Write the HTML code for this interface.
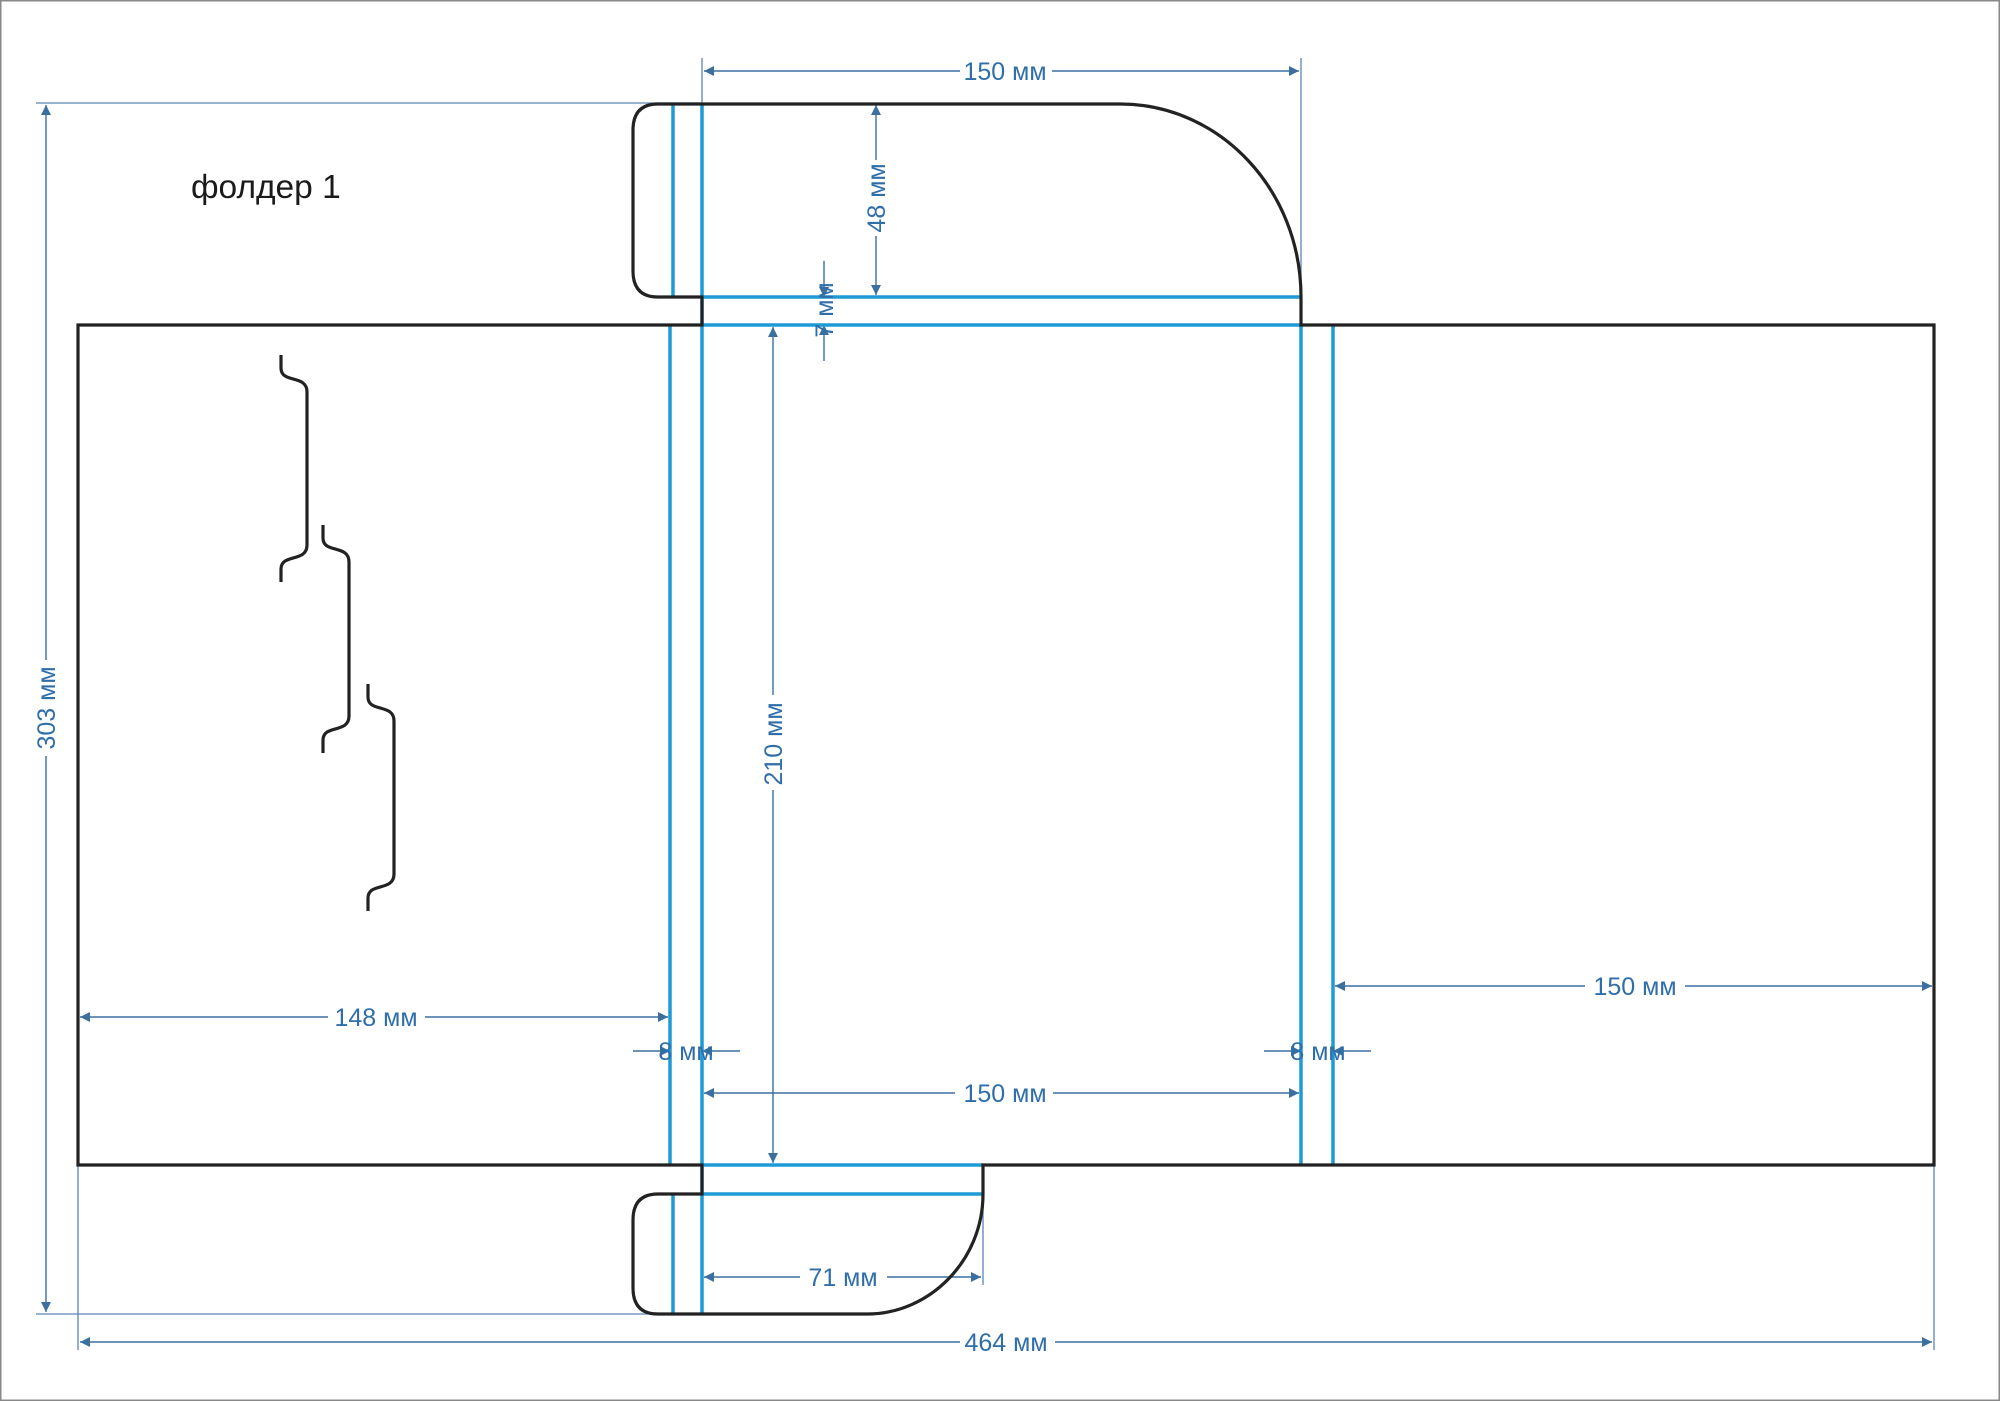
<!DOCTYPE html>
<html><head><meta charset="utf-8"><style>
html,body{margin:0;padding:0;background:#fff}
svg{display:block}
text{font-family:"Liberation Sans",sans-serif;fill:#2f6ea8;font-size:25px}
</style></head><body>
<svg width="2000" height="1401" viewBox="0 0 2000 1401" xmlns="http://www.w3.org/2000/svg">
<defs>
<marker id="a" viewBox="0 0 10 10" refX="10" refY="5" markerWidth="14" markerHeight="10" markerUnits="userSpaceOnUse" orient="auto-start-reverse"><path d="M0,0 L10,5 L0,10 z" fill="#3a6fa0"/></marker>
</defs>
<rect x="0.5" y="0.5" width="1999" height="1400" fill="#fff" stroke="#888" stroke-width="2"/>

<g stroke="#5a86b3" stroke-width="1.3" fill="none">
<line x1="36" y1="103" x2="701" y2="103"/>
<line x1="36" y1="1314" x2="701" y2="1314"/>
<line x1="78" y1="1165" x2="78" y2="1350"/>
<line x1="1934" y1="1165" x2="1934" y2="1350"/>
<line x1="702" y1="58" x2="702" y2="103"/>
<line x1="1301" y1="58" x2="1301" y2="297"/>
<line x1="983" y1="1194" x2="983" y2="1285"/>
</g>

<g stroke="#3a6fa0" stroke-width="1.4" fill="none">
<line x1="704" y1="71" x2="960" y2="71" marker-start="url(#a)"/>
<line x1="1052" y1="71" x2="1299" y2="71" marker-end="url(#a)"/>
<line x1="46" y1="105" x2="46" y2="660" marker-start="url(#a)"/>
<line x1="46" y1="756" x2="46" y2="1312" marker-end="url(#a)"/>
<line x1="80" y1="1342" x2="960" y2="1342" marker-start="url(#a)"/>
<line x1="1055" y1="1342" x2="1932" y2="1342" marker-end="url(#a)"/>
<line x1="876" y1="105" x2="876" y2="160" marker-start="url(#a)"/>
<line x1="876" y1="236" x2="876" y2="295" marker-end="url(#a)"/>
<line x1="824" y1="261" x2="824" y2="297" marker-end="url(#a)"/>
<line x1="824" y1="361" x2="824" y2="325" marker-end="url(#a)"/>
<line x1="773" y1="327" x2="773" y2="695" marker-start="url(#a)"/>
<line x1="773" y1="790" x2="773" y2="1163" marker-end="url(#a)"/>
<line x1="80" y1="1017" x2="328" y2="1017" marker-start="url(#a)"/>
<line x1="425" y1="1017" x2="668" y2="1017" marker-end="url(#a)"/>
<line x1="633" y1="1051" x2="670" y2="1051" marker-end="url(#a)"/>
<line x1="740" y1="1051" x2="702" y2="1051" marker-end="url(#a)"/>
<line x1="1264" y1="1051" x2="1301" y2="1051" marker-end="url(#a)"/>
<line x1="1371" y1="1051" x2="1333" y2="1051" marker-end="url(#a)"/>
<line x1="704" y1="1093" x2="955" y2="1093" marker-start="url(#a)"/>
<line x1="1053" y1="1093" x2="1299" y2="1093" marker-end="url(#a)"/>
<line x1="1335" y1="986" x2="1585" y2="986" marker-start="url(#a)"/>
<line x1="1685" y1="986" x2="1932" y2="986" marker-end="url(#a)"/>
<line x1="704" y1="1277" x2="800" y2="1277" marker-start="url(#a)"/>
<line x1="887" y1="1277" x2="981" y2="1277" marker-end="url(#a)"/>
</g>

<g stroke="#1e9ad6" stroke-width="3.5" fill="none">
<line x1="673" y1="104" x2="673" y2="297"/>
<line x1="702" y1="104" x2="702" y2="325"/>
<line x1="702" y1="297" x2="1301" y2="297"/>
<line x1="702" y1="325" x2="1301" y2="325"/>
<line x1="670" y1="325" x2="670" y2="1165"/>
<line x1="702" y1="325" x2="702" y2="1165"/>
<line x1="1301" y1="325" x2="1301" y2="1165"/>
<line x1="1333" y1="325" x2="1333" y2="1165"/>
<line x1="702" y1="1165" x2="983" y2="1165"/>
<line x1="702" y1="1194" x2="983" y2="1194"/>
<line x1="673" y1="1194" x2="673" y2="1314"/>
<line x1="702" y1="1165" x2="702" y2="1314"/>
</g>

<g stroke="#222" stroke-width="3.2" fill="none" stroke-linejoin="miter">
<path d="M702,325 H78 V1165 H702 V1194 H658 Q633,1194 633,1220 V1288 Q633,1314 658,1314 H867 C930,1314 983,1260 983,1194 V1165 H1934 V325 H1301 V297 C1301,190 1220,104 1120,104 H658 Q633,104 633,130 V271 Q633,297 658,297 H702 Z"/>
<path d="M281,355 V368 C281,384 307,374 307,392 V545 C307,563 281,553 281,569 V582"/>
<path d="M323,525 V538 C323,554 349,544 349,562 V716 C349,734 323,724 323,740 V753"/>
<path d="M368,684 V697 C368,713 394,703 394,721 V874 C394,892 368,882 368,898 V911"/>
</g>

<text x="1005" y="80" text-anchor="middle">150 мм</text>
<text x="1006" y="1351" text-anchor="middle">464 мм</text>
<text x="1005" y="1102" text-anchor="middle">150 мм</text>
<text x="1635" y="995" text-anchor="middle">150 мм</text>
<text x="376" y="1026" text-anchor="middle">148 мм</text>
<text x="843" y="1286" text-anchor="middle">71 мм</text>
<text x="686" y="1060" text-anchor="middle">8 мм</text>
<text x="1318" y="1060" text-anchor="middle">8 мм</text>
<text transform="translate(55,708) rotate(-90)" text-anchor="middle">303 мм</text>
<text transform="translate(885,198) rotate(-90)" text-anchor="middle">48 мм</text>
<text transform="translate(782,744) rotate(-90)" text-anchor="middle">210 мм</text>
<text transform="translate(833,310) rotate(-90)" text-anchor="middle">7 мм</text>
<text x="191" y="198" style="fill:#1a1a1a;font-size:33.5px">фолдер 1</text>
</svg>
</body></html>
